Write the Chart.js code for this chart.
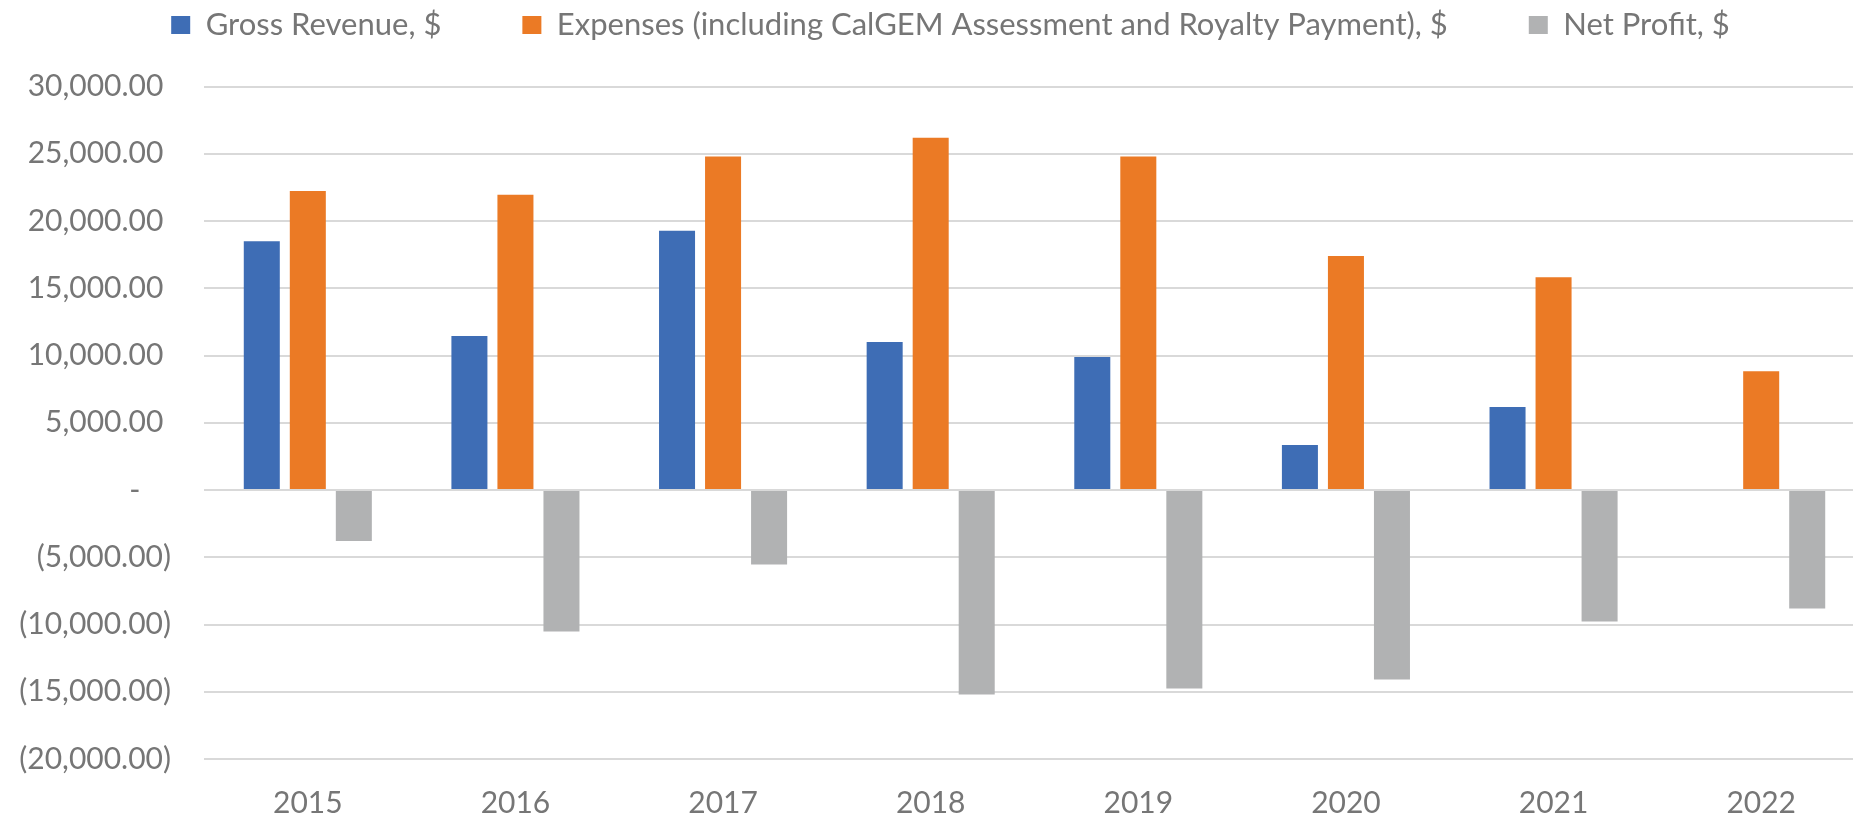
<!DOCTYPE html>
<html>
<head>
<meta charset="utf-8">
<title>Gross Revenue, Expenses and Net Profit</title>
<script src="https://cdn.jsdelivr.net/npm/chart.js@4.4.1/dist/chart.umd.min.js"></script>
<style>
    html, body { margin: 0; padding: 0; background: #ffffff; overflow: hidden; }
    #graphique { display: block; }
</style>
</head>
<body>
<canvas id="graphique" width="1865" height="818"></canvas>
<script>
const ANNEES = ['2015', '2016', '2017', '2018', '2019', '2020', '2021', '2022'];

const REVENU_BRUT = [18500, 11450, 19270, 11010, 9890, 3340, 6170, null];
const DEPENSES    = [22230, 21960, 24790, 26190, 24790, 17390, 15820, 8830];
const PROFIT_NET  = [-3800, -10520, -5540, -15200, -14760, -14090, -9780, -8810];

const NOMS_SERIES = [
    'Gross Revenue, $',
    'Expenses (including CalGEM Assessment and Royalty Payment), $',
    'Net Profit, $',
];

const GRADUATIONS_Y = { min: -20000, max: 30000, pas: 5000 };

const COULEURS = ['#3E6DB5', '#EB7A25', '#B1B2B3'];
const GRIS_TEXTE = '#767676';
const GRIS_GRILLE = '#d9d9d9';
const POLICE = { family: 'Lato', size: 30 };

function formatComptable(v) {
    const n = Math.abs(v).toLocaleString('en-US', { minimumFractionDigits: 2, maximumFractionDigits: 2 });
    if (v === 0) return '-    ';
    return v < 0 ? '(' + n + ')' : n + ' ';
}

// légende façon Excel : grand blanc sous la légende, rangée un peu décalée à droite
const placerLegende = {
    id: 'placerLegende',
    beforeLayout(chart) {
        const leg = chart.legend;
        if (leg && !leg._ajuste) {
            leg._ajuste = true;
            const fitOrig = leg.fit;
            leg.fit = function () { fitOrig.call(this); this.height = 86.5; };
        }
    },
    afterLayout(chart) {
        const leg = chart.legend;
        if (!leg) return;
        leg.left = 36;
        leg.top = -71.5;
        leg.bottom = 86.5;
    }
};

new Chart(document.getElementById('graphique'), {
    type: 'bar',
    data: {
        labels: ANNEES,
        datasets: [
            { label: NOMS_SERIES[0], data: REVENU_BRUT, backgroundColor: COULEURS[0] },
            { label: NOMS_SERIES[1], data: DEPENSES,    backgroundColor: COULEURS[1] },
            { label: NOMS_SERIES[2], data: PROFIT_NET,  backgroundColor: COULEURS[2] },
        ]
    },
    options: {
        responsive: false,
        animation: false,
        datasets: { bar: { categoryPercentage: 0.665, barPercentage: 0.7826, borderWidth: 0 } },
        layout: { padding: 0 },
        plugins: {
            tooltip: { enabled: false },
            legend: {
                position: 'top',
                labels: { color: GRIS_TEXTE, font: { ...POLICE, size: 31 }, boxWidth: 19, boxHeight: 18, padding: 81 }
            }
        },
        scales: {
            x: {
                afterFit: axe => { axe.height = 59; },
                grid: { display: false, drawTicks: false },
                border: { display: false },
                ticks: { color: GRIS_TEXTE, font: { ...POLICE, lineHeight: 1 }, padding: 29, maxRotation: 0 }
            },
            y: {
                min: GRADUATIONS_Y.min,
                max: GRADUATIONS_Y.max,
                afterFit: axe => { axe.width = 204; },
                grid: { color: GRIS_GRILLE, lineWidth: 2, drawTicks: false },
                border: { display: false },
                ticks: {
                    stepSize: GRADUATIONS_Y.pas,
                    color: GRIS_TEXTE,
                    font: POLICE,
                    padding: 33,
                    callback: v => formatComptable(v)
                }
            }
        }
    },
    plugins: [placerLegende]
});
</script>
</body>
</html>
